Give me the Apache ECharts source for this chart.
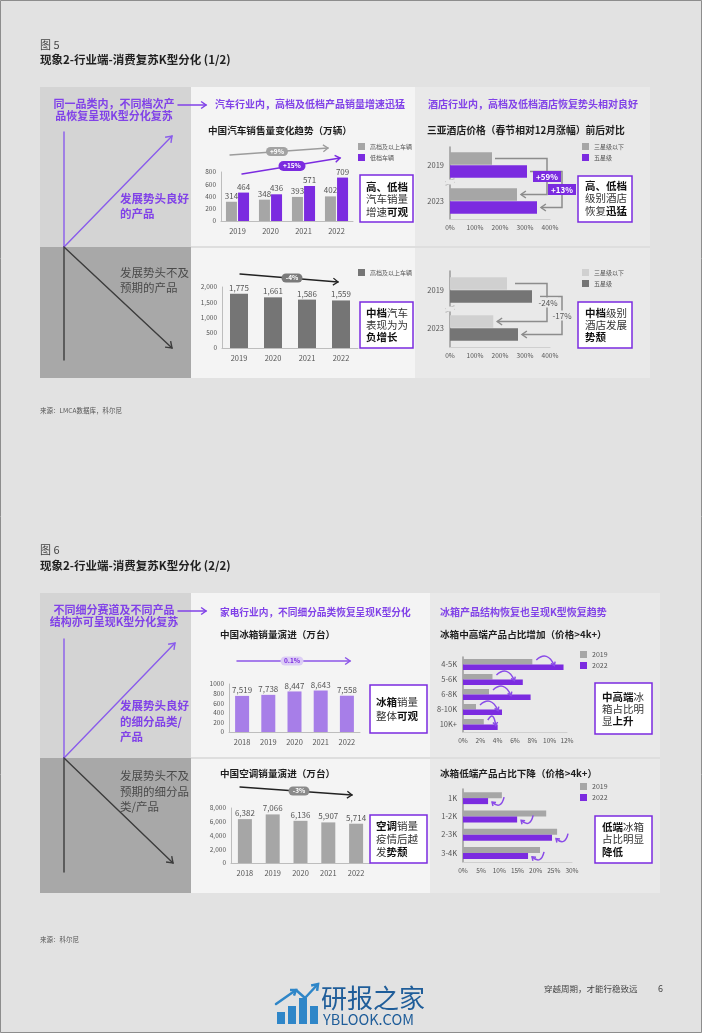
<!DOCTYPE html>
<html><head><meta charset="utf-8">
<script src="https://cdn.jsdelivr.net/npm/echarts@6/dist/echarts.min.js"></script>
<style>html,body{margin:0;padding:0;background:#e2e2e2}#c{width:702px;height:1033px}</style>
</head><body><div id="c"></div>
<script>
// ---------------- DATA ----------------
const carYears = ['2019', '2020', '2021', '2022'];
const carHighName = '高档及以上车辆', carLowName = '低档车辆';
const carHigh = [314, 348, 393, 402];
const carLow = [464, 436, 571, 709];
const carMidName = '高档及以上车辆';
const carMid = [1775, 1661, 1586, 1559];
const hotelYears = ['2019', '2023'];
const hotel3Name = '三星级以下', hotel5Name = '五星级';
const hotelTop3 = [168, 268];
const hotelTop5 = [308, 348];
const hotelMid3 = [228, 173];
const hotelMid5 = [328, 272];
const hotelTopChanges = ['+59%', '+13%'];
const hotelMidChanges = ['-24%', '-17%'];
const carTrend = ['+9%', '+15%', '-4%'];
const appYears = ['2018', '2019', '2020', '2021', '2022'];
const fridgeName = '冰箱销量', acName = '空调销量';
const fridgeSales = [7519, 7738, 8447, 8643, 7558];
const acSales = [6382, 7066, 6136, 5907, 5714];
const applTrend = ['0.1%', '-3%'];
const hiCats = ['4-5K', '5-6K', '6-8K', '8-10K', '10K+'];
const hi2019 = [8.0, 3.4, 3.0, 1.5, 2.4];
const hi2022 = [11.6, 6.9, 7.8, 4.5, 4.0];
const loCats = ['1K', '1-2K', '2-3K', '3-4K'];
const lo2019 = [10.7, 22.9, 25.9, 21.2];
const lo2022 = [6.9, 14.9, 24.5, 17.9];
const yearNames = ['2019', '2022'];

// ---------------- STYLE ----------------
const PURPLE = '#7b2be0', TP = '#8142e8', GREY = '#a6a6a6', DGREY = '#757575', LGREY = '#d0d0d0', LPURPLE = '#a77ee8';
const FF = '"Noto Sans CJK SC","Noto Sans",sans-serif';
const fmt = v => Number(v).toLocaleString('en-US');

const grids = [
  {left: 221, top: 172, width: 132, height: 49},
  {left: 222, top: 287, width: 136, height: 61},
  {left: 450, top: 147, width: 100, height: 72},
  {left: 450, top: 271, width: 100, height: 76},
  {left: 229, top: 684, width: 131, height: 48},
  {left: 231, top: 808, width: 139, height: 55},
  {left: 463, top: 657, width: 104, height: 75},
  {left: 463, top: 789, width: 109, height: 73}
];
const lineAx = {show: true, lineStyle: {color: '#bdbdbd', width: 1}};
function catX(g, data) { return {gridIndex: g, type: 'category', data, axisTick: {show: false}, axisLine: lineAx, axisLabel: {fontSize: 7.5, color: '#555', margin: 6}}; }
function valY(g, max, itv, f) { return {gridIndex: g, type: 'value', min: 0, max, interval: itv, splitLine: {show: false}, axisLine: lineAx, axisTick: {show: false}, axisLabel: {fontSize: 6.5, color: '#555', margin: 5, formatter: f}}; }
function valX(g, max, itv) { return {gridIndex: g, type: 'value', min: 0, max, interval: itv, splitLine: {show: false}, axisLine: {show: true, lineStyle: {color: '#cfcfcf'}}, axisTick: {show: false}, axisLabel: {fontSize: 6.5, color: '#555', margin: 5, formatter: '{value}%'}}; }
function catY(g, data) { return {gridIndex: g, type: 'category', inverse: true, data, axisTick: {show: false}, axisLine: {show: true, lineStyle: {color: '#9a9a9a', width: 1.5}}, axisLabel: {fontSize: 7.5, color: '#555', margin: 6}}; }
const barLbl = f => ({show: true, position: 'top', fontSize: 8, color: '#555', distance: 2, formatter: f});
function leg(left, top, items, fs) {
  return {show: true, left, top, orient: 'vertical', icon: 'rect', itemWidth: 7, itemHeight: 7, itemGap: 4, padding: 0,
    selectedMode: false, textStyle: {fontSize: fs || 6, color: '#555', fontFamily: FF},
    data: items.map(it => ({name: it[0], itemStyle: {color: it[1]}}))};
}

const option = {
  animation: false,
  textStyle: {fontFamily: FF},
  grid: grids,
  xAxis: [catX(0, carYears), catX(1, carYears), valX(2, 400, 100), valX(3, 400, 100),
    catX(4, appYears), catX(5, appYears), valX(6, 12, 2), valX(7, 30, 5)],
  yAxis: [valY(0, 800, 200), valY(1, 2000, 500, v => fmt(v)), catY(2, hotelYears), catY(3, hotelYears),
    valY(4, 10000, 2000, v => String(v / 10)), valY(5, 8000, 2000, v => fmt(v)), catY(6, hiCats), catY(7, loCats)],
  legend: [
    leg(358, 143, [[carHighName, GREY], [carLowName, PURPLE]]),
    leg(358, 269, [[carMidName, DGREY]]),
    leg(582, 143, [[hotel3Name, GREY], [hotel5Name, PURPLE]]),
    leg(582, 269, [[hotel3Name, LGREY], [hotel5Name, DGREY]]),
    leg(580, 651, [[yearNames[0], GREY], [yearNames[1], PURPLE]], 7),
    leg(580, 783, [[yearNames[0], GREY], [yearNames[1], PURPLE]], 7)
  ],
  series: [
    {name: carHighName, type: 'bar', xAxisIndex: 0, yAxisIndex: 0, data: carHigh, barWidth: 11, barGap: '10%', itemStyle: {color: GREY}, label: barLbl()},
    {name: carLowName, type: 'bar', xAxisIndex: 0, yAxisIndex: 0, data: carLow, barWidth: 11, barGap: '10%', itemStyle: {color: PURPLE}, label: barLbl()},
    {name: carMidName, type: 'bar', xAxisIndex: 1, yAxisIndex: 1, data: carMid, barWidth: 18, itemStyle: {color: DGREY}, label: barLbl(p => fmt(p.value))},
    {name: hotel3Name, type: 'bar', xAxisIndex: 2, yAxisIndex: 2, data: hotelTop3, barWidth: 12.5, barGap: '4%', itemStyle: {color: GREY}},
    {name: hotel5Name, type: 'bar', xAxisIndex: 2, yAxisIndex: 2, data: hotelTop5, barWidth: 12.5, barGap: '4%', itemStyle: {color: PURPLE}},
    {name: hotel3Name, type: 'bar', xAxisIndex: 3, yAxisIndex: 3, data: hotelMid3, barWidth: 12.5, barGap: '4%', itemStyle: {color: LGREY}},
    {name: hotel5Name, type: 'bar', xAxisIndex: 3, yAxisIndex: 3, data: hotelMid5, barWidth: 12.5, barGap: '4%', itemStyle: {color: DGREY}},
    {name: fridgeName, type: 'bar', xAxisIndex: 4, yAxisIndex: 4, data: fridgeSales, barWidth: 14, itemStyle: {color: LPURPLE}, label: barLbl(p => fmt(p.value))},
    {name: acName, type: 'bar', xAxisIndex: 5, yAxisIndex: 5, data: acSales, barWidth: 14, itemStyle: {color: GREY}, label: barLbl(p => fmt(p.value))},
    {name: yearNames[0], type: 'bar', xAxisIndex: 6, yAxisIndex: 6, data: hi2019, barWidth: 5.5, barGap: '0%', itemStyle: {color: GREY}},
    {name: yearNames[1], type: 'bar', xAxisIndex: 6, yAxisIndex: 6, data: hi2022, barWidth: 5.5, barGap: '0%', itemStyle: {color: PURPLE}},
    {name: yearNames[0], type: 'bar', xAxisIndex: 7, yAxisIndex: 7, data: lo2019, barWidth: 6, barGap: '0%', itemStyle: {color: GREY}},
    {name: yearNames[1], type: 'bar', xAxisIndex: 7, yAxisIndex: 7, data: lo2022, barWidth: 6, barGap: '0%', itemStyle: {color: PURPLE}}
  ]
};

const chart = echarts.init(document.getElementById('c'), null, {renderer: 'canvas'});
chart.setOption(option);

// ---------------- ANNOTATION GRAPHICS ----------------
const G = [];
function rect(x, y, w, h, fill, o) { o = o || {}; G.push({type: 'rect', z: o.z != null ? o.z : -5, shape: {x, y, width: w, height: h, r: o.r || 0}, style: {fill: fill, stroke: o.stroke || null, lineWidth: o.lw || 0}}); }
function line(x1, y1, x2, y2, stroke, lw) { G.push({type: 'line', z: 10, shape: {x1, y1, x2, y2}, style: {stroke, lineWidth: lw, lineCap: 'round'}}); }
function poly(points, stroke, lw) { G.push({type: 'polyline', z: 10, shape: {points}, style: {stroke, lineWidth: lw, fill: null, lineJoin: 'miter'}}); }
function chev(x, y, ang, size, stroke, lw) {
  const a1 = ang + Math.PI - 0.62, a2 = ang + Math.PI + 0.62;
  poly([[x + size * Math.cos(a1), y + size * Math.sin(a1)], [x, y], [x + size * Math.cos(a2), y + size * Math.sin(a2)]], stroke, lw);
}
function arrow(x1, y1, x2, y2, stroke, lw, size) { line(x1, y1, x2, y2, stroke, lw); chev(x2, y2, Math.atan2(y2 - y1, x2 - x1), size, stroke, lw); }
function curve(x1, y1, cx, cy, x2, y2, stroke, lw, size) {
  G.push({type: 'bezierCurve', z: 10, shape: {x1, y1, x2, y2, cpx1: cx, cpy1: cy}, style: {stroke, lineWidth: lw, fill: null}});
  chev(x2, y2, Math.atan2(y2 - cy, x2 - cx), size, stroke, lw);
}
function T(x, y, lines, o) {
  o = o || {};
  const size = o.size || 10, lh = o.lh || size * 1.25;
  const rich = o.rich ? {b: {fontWeight: 'bold', fill: '#111', color: '#111', fontSize: size, lineHeight: lh, fontFamily: FF}} : undefined;
  G.push({type: 'text', z: 12, style: {x, y: y - lh / 2, text: Array.isArray(lines) ? lines.join('\n') : lines,
    fill: o.color || '#333', fontSize: size, fontWeight: o.weight || 'normal', fontFamily: FF, lineHeight: lh,
    align: o.align || 'left', textAlign: o.align || 'left', verticalAlign: 'top', textVerticalAlign: 'top', rich}});
}
function pill(cx, cy, w, h, fill, txt, color, fs) {
  rect(cx - w / 2, cy - h / 2, w, h, fill, {z: 11, r: h / 2});
  T(cx, cy, txt, {size: fs || 6.5, color: color || '#fff', weight: 'bold', align: 'center', lh: h});
}
function box(x, y, w, h) { rect(x, y, w, h, '#ffffff', {z: 9, stroke: PURPLE, lw: 1.5}); }

// page frame & panels
rect(0.5, 0.5, 701, 1032, null, {z: 20, stroke: '#8d8d8d', lw: 1});
// Fig 5 panels
rect(40, 87, 151, 160, '#d4d4d4');
rect(40, 247, 151, 131, '#a8a8a8');
rect(191, 87, 224, 291, '#f4f4f4');
rect(415, 87, 235, 291, '#e9e9e9');
rect(191, 246, 459, 2, '#dedede', {z: -4});
// Fig 6 panels
rect(40, 593, 151, 165, '#d4d4d4');
rect(40, 758, 151, 135, '#a8a8a8');
rect(191, 593, 239, 300, '#f4f4f4');
rect(430, 593, 230, 300, '#e9e9e9');
rect(191, 757, 469, 2, '#dedede', {z: -4});

// titles
T(40, 45, '图 5', {size: 11, color: '#444'});
T(40, 60, '现象2-行业端-消费复苏K型分化 (1/2)', {size: 11.5, weight: 'bold', color: '#222'});
T(40, 550, '图 6', {size: 11, color: '#444'});
T(40, 566, '现象2-行业端-消费复苏K型分化 (2/2)', {size: 11.5, weight: 'bold', color: '#222'});
T(40, 411, '来源：LMCA数据库，科尔尼', {size: 6.5, color: '#555'});
T(40, 940, '来源：科尔尼', {size: 6.5, color: '#555'});

// left K panels
const LP = '#8a5cec', LD = '#3c3c3c';
function kPanel(y0, yMid, yEnd, upEnd, downEnd, head, good, bad, gy, by, glh) {
  T(114, y0, head, {size: 11, weight: 'bold', color: TP, align: 'center', lh: 12});
  arrow(178, y0 + 1, 206, y0 + 1, TP, 1.5, 6);
  line(64, upEnd[1] - 4, 64, yMid, LP, 1.4);
  line(64, yMid, 64, yEnd, LD, 1.4);
  arrow(64, yMid, upEnd[0], upEnd[1], LP, 1.4, 7);
  arrow(64, yMid, downEnd[0], downEnd[1], LD, 1.4, 7);
  T(120, gy, good, {size: 11.5, weight: 'bold', color: TP, lh: glh});
  T(120, by, bad, {size: 11.5, weight: 'normal', color: '#4a4a4a', lh: glh});
}
kPanel(104, 247, 360, [172, 136], [172, 348], ['同一品类内，不同档次产', '品恢复呈现K型分化复苏'],
  ['发展势头良好', '的产品'], ['发展势头不及', '预期的产品'], 199, 273, 14.5);
kPanel(610, 758, 872, [175, 643], [173, 863], ['不同细分赛道及不同产品', '结构亦可呈现K型分化复苏'],
  ['发展势头良好', '的细分品类/', '产品'], ['发展势头不及', '预期的细分品', '类/产品'], 706, 776, 15.5);

// section headers
T(215, 104, '汽车行业内，高档及低档产品销量增速迅猛', {size: 10, weight: 'bold', color: TP});
T(428, 104, '酒店行业内，高档及低档酒店恢复势头相对良好', {size: 10, weight: 'bold', color: TP});
T(220, 612, '家电行业内，不同细分品类恢复呈现K型分化', {size: 9.7, weight: 'bold', color: TP});
T(440, 612, '冰箱产品结构恢复也呈现K型恢复趋势', {size: 10, weight: 'bold', color: TP});
T(208, 130, '中国汽车销售量变化趋势（万辆）', {size: 9.6, weight: 'bold', color: '#1e1e1e'});
T(427, 130, '三亚酒店价格（春节相对12月涨幅）前后对比', {size: 9.8, weight: 'bold', color: '#1e1e1e'});
T(220, 634, '中国冰箱销量演进（万台）', {size: 9.6, weight: 'bold', color: '#1e1e1e'});
T(440, 634, '冰箱中高端产品占比增加（价格>4k+）', {size: 9.6, weight: 'bold', color: '#1e1e1e'});
T(220, 773, '中国空调销量演进（万台）', {size: 9.6, weight: 'bold', color: '#1e1e1e'});
T(440, 773, '冰箱低端产品占比下降（价格>4k+）', {size: 9.6, weight: 'bold', color: '#1e1e1e'});

// trend arrows on column charts
arrow(230, 155, 328, 148, '#9c9c9c', 1.3, 6);
pill(277, 151.5, 22, 9, '#a3a3a3', carTrend[0]);
arrow(242, 174, 340, 158, PURPLE, 1.5, 6);
pill(292, 166, 27, 10, PURPLE, carTrend[1]);
arrow(240, 274, 338, 282, '#222', 1.3, 6);
pill(292, 278, 21, 9, '#7a7a7a', carTrend[2]);
arrow(237, 661, 350, 661, '#8c55e8', 1.5, 6);
pill(292, 661, 23, 9, '#dccdf5', applTrend[0], PURPLE);
arrow(240, 787, 352, 795, '#222', 1.3, 6);
pill(299, 791, 21, 9, '#8a8a8a', applTrend[1]);

// callout boxes
const RB = {rich: true, size: 10.5, color: '#333'};
box(360, 175, 53, 47); T(366, 187, ['{b|高、低档}', '汽车销量', '增速{b|可观}'], Object.assign({lh: 12.5}, RB));
box(360, 302, 53, 46); T(366, 313, ['{b|中档}汽车', '表现为为', '{b|负增长}'], Object.assign({lh: 12}, RB));
box(578, 176, 54, 46); T(585, 186, ['{b|高、低档}', '级别酒店', '恢复{b|迅猛}'], Object.assign({lh: 12.5}, RB));
box(578, 302, 54, 46); T(585, 313, ['{b|中档}级别', '酒店发展', '{b|势颓}'], Object.assign({lh: 12}, RB));
box(370, 685, 57, 48); T(376, 702, ['{b|冰箱}销量', '整体{b|可观}'], Object.assign({lh: 14}, RB));
box(370, 815, 57, 48); T(376, 826, ['{b|空调}销量', '疫情后越', '发{b|势颓}'], Object.assign({lh: 13}, RB));
box(595, 683, 57, 51); T(602, 697, ['{b|中高端}冰', '箱占比明', '显{b|上升}'], Object.assign({lh: 12}, RB));
box(595, 816, 57, 47); T(602, 827, ['{b|低端}冰箱', '占比明显', '{b|降低}'], Object.assign({lh: 12.5}, RB));

// helpers reading bar layout produced by ECharts
function R(si, di) {
  const l = chart.getModel().getSeriesByIndex(si).getData().getItemLayout(di);
  const x0 = Math.min(l.x, l.x + l.width), x1 = Math.max(l.x, l.x + l.width);
  const y0 = Math.min(l.y, l.y + l.height), y1 = Math.max(l.y, l.y + l.height);
  return {x0, x1, y0, y1, cy: (y0 + y1) / 2};
}
// hotel connectors
function hotelConn(sA, sB, labels, boxed, gap, panelFill) {
  const gr = grids[2].left + grids[2].width;
  const xA = gr - 3, xB = gr + 12, col = '#8c8c8c';
  const a19 = R(sA, 0), a23 = R(sA, 1), b19 = R(sB, 0), b23 = R(sB, 1);
  poly([[a19.x1 + gap, a19.cy], [xA, a19.cy], [xA, a23.cy], [a23.x1 + 4, a23.cy]], col, 1.5);
  chev(a23.x1 + 4, a23.cy, Math.PI, 6, col, 1.5);
  poly([[b19.x1 + gap, b19.cy], [xB, b19.cy], [xB, b23.cy], [b23.x1 + 4, b23.cy]], col, 1.5);
  chev(b23.x1 + 4, b23.cy, Math.PI, 6, col, 1.5);
  const mA = (a19.cy + a23.cy) / 2, mB = (b19.cy + b23.cy) / 2;
  if (boxed) {
    rect(xA - 14, mA - 5.5, 28, 11, PURPLE, {z: 11});
    T(xA, mA, labels[0], {size: 8, weight: 'bold', color: '#fff', align: 'center', lh: 11});
    rect(xB - 14, mB - 5.5, 28, 11, PURPLE, {z: 11});
    T(xB, mB, labels[1], {size: 8, weight: 'bold', color: '#fff', align: 'center', lh: 11});
  } else {
    rect(xA - 11, mA - 5, 22, 10, panelFill, {z: 11});
    T(xA + 1, mA, labels[0], {size: 8, color: '#555', align: 'center', lh: 10});
    rect(xB - 11, mB - 5, 22, 10, panelFill, {z: 11});
    T(xB, mB, labels[1], {size: 8, color: '#555', align: 'center', lh: 10});
  }
}
hotelConn(3, 4, hotelTopChanges, true, 3, '#e9e9e9');
hotelConn(5, 6, hotelMidChanges, false, 8, '#e9e9e9');
// axis break marks on hotel charts
[182, 309].forEach(by => {
  rect(446, by - 2.5, 8, 5, '#e9e9e9', {z: 11});
  line(446, by - 0.5, 454, by - 3, '#9a9a9a', 1);
  line(446, by + 3, 454, by + 0.5, '#9a9a9a', 1);
});
// curved arrows on fridge share charts
const CA = '#8a4be8';
hi2019.forEach((v, i) => {
  const g = R(9, i), p = R(10, i);
  const x1 = g.x1 + 4, x2 = Math.min(g.x1 + 22, p.x1 - 2);
  curve(x1, g.y0 + 1, (x1 + x2) / 2 + 2, g.y0 - 9, x2, g.y1 + 1, CA, 1.5, 4);
});
lo2022.forEach((v, i) => {
  const p = R(12, i);
  curve(p.x1 + 16, p.y0 - 1, p.x1 + 13, p.y1 + 6, p.x1 + 4, p.cy + 1, CA, 1.5, 4);
});

// footer
T(544, 989, '穿越周期，才能行稳致远', {size: 8.5, color: '#444'});
T(658, 989, '6', {size: 9, color: '#444'});
[[277, 12], [288, 18], [299, 26], [310, 18]].forEach(b => rect(b[0], 1024 - b[1], 8, b[1], '#2f86c8', {z: 5}));
arrow(276, 1004, 296, 990, '#2f86c8', 2.5, 6);
line(296, 990, 305, 998, '#2f86c8', 2.5);
arrow(305, 998, 318, 984, '#2f86c8', 2.5, 7);
T(321, 998, '研报之家', {size: 26, color: '#1f5d99', lh: 28});
T(323, 1019, 'YBLOOK.COM', {size: 14.5, color: '#1f5d99', lh: 16});

chart.setOption({graphic: {elements: G}});
</script></body></html>
